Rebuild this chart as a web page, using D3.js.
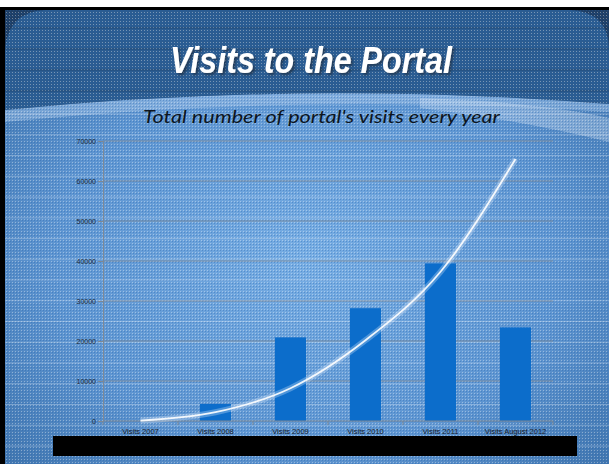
<!DOCTYPE html>
<html>
<head>
<meta charset="utf-8">
<script src="https://cdn.jsdelivr.net/npm/d3@7"></script>
<style>
 html, body { margin: 0; padding: 0; background: #fff; }
 svg { display: block; }
</style>
</head>
<body>
<div id="chart"></div>
<script>
const categories = ["Visits 2007", "Visits 2008", "Visits 2009", "Visits 2010", "Visits 2011", "Visits August 2012"];
const visits = [0, 4250, 20900, 28200, 39400, 23400];
const trend = [100, 2200, 8200, 20200, 37300, 65500];
const yTicks = [0, 10000, 20000, 30000, 40000, 50000, 60000, 70000];

const W = 609, H = 464;
const svg = d3.select("#chart").append("svg").attr("width", W).attr("height", H);
const defs = svg.append("defs");

const bg = defs.append("radialGradient").attr("id", "bg")
 .attr("cx", 0.5).attr("cy", 0.55).attr("r", 0.7);
bg.append("stop").attr("offset", "0%").attr("stop-color", "#78aee4");
bg.append("stop").attr("offset", "60%").attr("stop-color", "#5e95d1");
bg.append("stop").attr("offset", "100%").attr("stop-color", "#3d72ab");

const dots = defs.append("pattern").attr("id", "dots")
 .attr("width", 3).attr("height", 3).attr("patternUnits", "userSpaceOnUse");
dots.append("rect").attr("width", 1).attr("height", 1).attr("fill", "#fff").attr("opacity", 0.35);
dots.append("rect").attr("x", 1).attr("y", 1).attr("width", 1).attr("height", 1).attr("fill", "#1f5fa8").attr("opacity", 0.35);

const shadow = defs.append("filter").attr("id", "shadow")
 .attr("x", "-10%").attr("y", "-20%").attr("width", "120%").attr("height", "150%");
shadow.append("feDropShadow").attr("dx", 2).attr("dy", 2).attr("stdDeviation", 0.8)
 .attr("flood-color", "#1c2530").attr("flood-opacity", 0.6);

// slide background
svg.append("rect").attr("x", 0).attr("y", 7).attr("width", W).attr("height", H - 7).attr("fill", "#000");
svg.append("rect").attr("x", 5).attr("y", 10).attr("width", W - 5).attr("height", H - 10).attr("fill", "url(#bg)");

// header band
svg.append("path").attr("d", "M5,10 H609 V104 Q305,80 5,110 Z").attr("fill", "#1f3f66");
svg.append("path")
 .attr("d", "M45,10 H570 Q609,12 609,50 V104 Q305,80 5,110 V50 Q8,12 45,10 Z")
 .attr("fill", "#2b5c91");
// light swoosh under header
svg.append("path").attr("d", "M5,110 Q305,80 609,104 L609,112 Q305,92 5,122 Z")
 .attr("fill", "#9cc0e6").attr("opacity", 0.55);
svg.append("path").attr("d", "M420,98 Q540,102 609,118 L609,142 Q520,120 420,108 Z")
 .attr("fill", "#d6e6f6").attr("opacity", 0.35);

svg.append("rect").attr("x", 5).attr("y", 10).attr("width", W - 5).attr("height", H - 10).attr("fill", "url(#dots)");

// faint scan lines of the slide image
const g0 = svg.append("g");
g0.selectAll("line.dark").data([28, 49, 70, 91]).join("line")
 .attr("x1", 5).attr("x2", W).attr("y1", d => d).attr("y2", d => d)
 .attr("stroke", "#1a2c40").attr("stroke-opacity", 0.35);
g0.selectAll("line.light").data(d3.range(114, 464, 20.75)).join("line")
 .attr("x1", 5).attr("x2", W).attr("y1", d => d).attr("y2", d => d)
 .attr("stroke", "#e8f2fc").attr("stroke-opacity", 0.3);

// titles
svg.append("text").attr("x", 311).attr("y", 73)
 .attr("text-anchor", "middle").attr("textLength", 282).attr("lengthAdjust", "spacingAndGlyphs")
 .attr("filter", "url(#shadow)")
 .style("font-family", "Liberation Sans, Arial, sans-serif").style("font-weight", "bold").style("font-style", "italic")
 .style("font-size", "36px").style("fill", "#fff")
 .text("Visits to the Portal");

svg.append("text").attr("x", 143).attr("y", 123)
 .attr("textLength", 357).attr("lengthAdjust", "spacingAndGlyphs")
 .style("font-family", "Lato, Open Sans, sans-serif").style("font-style", "italic")
 .style("font-size", "18px").style("fill", "#0d1520")
 .text("Total number of portal's visits every year");

// chart
const x = d3.scaleBand().domain(categories).range([103, 553])
 .paddingInner(0.5867).paddingOuter(0.2933);
const y = d3.scaleLinear().domain([0, 70000]).range([421, 141]);

const chart = svg.append("g");

chart.selectAll("line.grid").data(yTicks.slice(1)).join("line")
 .attr("x1", 103).attr("x2", 553).attr("y1", d => y(d)).attr("y2", d => y(d))
 .attr("stroke", "#7d8895").attr("stroke-opacity", 0.8);

const yAxis = chart.append("g").attr("transform", "translate(103,0)")
 .call(d3.axisLeft(y).tickValues(yTicks).tickSize(5).tickPadding(2).tickFormat(d3.format("d")));
yAxis.select(".domain").attr("stroke", "#7d8895");
yAxis.selectAll(".tick line").attr("stroke", "#7d8895");
yAxis.selectAll(".tick text").style("font-family", "Liberation Sans, Arial, sans-serif")
 .style("font-size", "7px").style("fill", "#1c2836");

chart.selectAll("rect.bar").data(visits).join("rect")
 .attr("x", (d, i) => x(categories[i]))
 .attr("y", d => y(d))
 .attr("width", x.bandwidth())
 .attr("height", d => y(0) - y(d))
 .attr("fill", "#0c6dcb");

const xAxis = chart.append("g").attr("transform", "translate(0,421)");
xAxis.append("line").attr("x1", 103).attr("x2", 553).attr("stroke", "#7d8895");
xAxis.selectAll("line.tk").data(d3.range(categories.length + 1)).join("line")
 .attr("x1", i => 103 + i * x.step()).attr("x2", i => 103 + i * x.step())
 .attr("y1", 0).attr("y2", 4).attr("stroke", "#7d8895");
xAxis.selectAll("text").data(categories).join("text")
 .attr("x", d => x(d) + x.bandwidth() / 2).attr("y", 13)
 .attr("text-anchor", "middle")
 .style("font-family", "Liberation Sans, Arial, sans-serif").style("font-size", "7.5px").style("fill", "#16202c")
 .text(d => d);

// trend line
const line = d3.line()
 .x((d, i) => x(categories[i]) + x.bandwidth() / 2)
 .y(d => y(d))
 .curve(d3.curveMonotoneX);
chart.append("path").datum(trend).attr("d", line)
 .attr("fill", "none").attr("stroke", "#e8f2ff").attr("stroke-width", 6).attr("stroke-opacity", 0.3);
chart.append("path").datum(trend).attr("d", line)
 .attr("fill", "none").attr("stroke", "#ffffff").attr("stroke-width", 1.8).attr("stroke-opacity", 0.9);

// black bar over bottom
svg.append("rect").attr("x", 53).attr("y", 436).attr("width", 524).attr("height", 20).attr("fill", "#000");
</script>
</body>
</html>
